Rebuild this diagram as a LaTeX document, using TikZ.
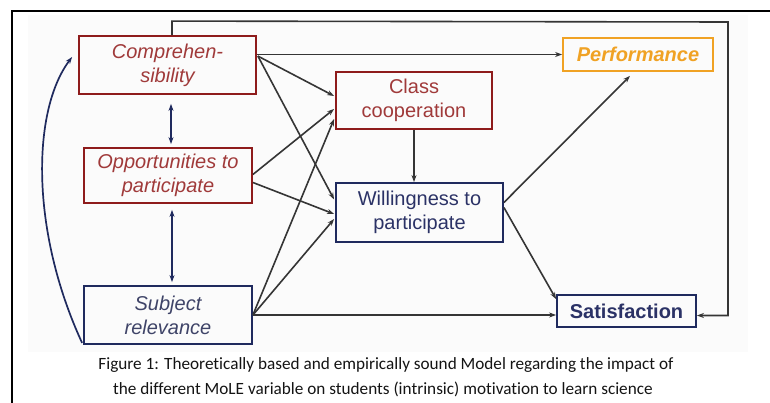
\documentclass[tikz,border=0pt]{standalone}
\usepackage{fontspec}
\setmainfont{Liberation Sans}
\newfontfamily\capfont[Ligatures=NoCommon]{Carlito}
\usetikzlibrary{arrows.meta,calc}
\definecolor{dred}{HTML}{8E1B1B}
\definecolor{tred}{HTML}{A03A3A}
\definecolor{dblue}{HTML}{1F2A5E}
\definecolor{tblue}{HTML}{2B3266}
\definecolor{sblue}{HTML}{3F4468}
\definecolor{orng}{HTML}{F0A224}
\definecolor{lgray}{HTML}{353535}
\begin{document}
\begin{tikzpicture}[x=1pt,y=-1pt,
  box/.style={draw, line width=1.8pt, inner sep=0pt, align=center, font=\fontsize{20}{24}\selectfont},
  redbox/.style={box, draw=dred, text=tred},
  bluebox/.style={box, draw=dblue, text=tblue},
  conn/.style={draw=lgray, line width=1.6pt, -{Stealth[length=7pt,width=5pt]}},
  bconn/.style={draw=dblue, line width=1.7pt, {Stealth[length=7pt,width=5pt]}-{Stealth[length=7pt,width=5pt]}},
  captext/.style={font=\capfont\fontsize{17.2}{20}\selectfont, text=black!92, anchor=base, inner sep=0pt},
]
\useasboundingbox (0,0) rectangle (770,403);
\fill[gray!3] (28,15) rectangle (748,352);
\draw[line width=2pt, black] (12,403) -- (12,11) -- (771,11);

% nodes
\node[redbox, minimum width=177pt, minimum height=58pt, font=\fontsize{20}{24}\selectfont\itshape] (C) at (167.5,65) {Comprehen-\\sibility};
\node[redbox, minimum width=168pt, minimum height=55pt, font=\fontsize{20}{24}\selectfont\itshape] (O) at (168,175.5) {Opportunities to\\participate};
\node[bluebox, text=sblue, minimum width=168pt, minimum height=58pt, font=\fontsize{20}{24}\selectfont\itshape] (S) at (168,315) {Subject\\relevance};
\node[redbox, minimum width=156pt, minimum height=57pt] (CC) at (414,100.5) {Class\\cooperation};
\node[bluebox, minimum width=167pt, minimum height=59pt] (W) at (419.5,212.5) {Willingness to\\participate};
\node[box, draw=orng, text=orng, minimum width=150pt, minimum height=33pt, font=\fontsize{20}{24}\selectfont\bfseries\itshape] (P) at (638,54.5) {Performance};
\node[bluebox, minimum width=139pt, minimum height=32pt, font=\fontsize{20}{24}\selectfont\bfseries] (Sat) at (626.5,311) {Satisfaction};

% feedback loop
\coordinate (t1) at ($(C.north)+(4.5,-14)$);
\coordinate (t2) at (728,22);
\coordinate (t3) at (728,315.5);
\draw[conn] (C.north -| t1) -- (t1) -- (t2) -- (t3) -- (t3 -| Sat.east);

% grey connectors
\draw[conn] (C.east |- P.west) -- (P.west);
\draw[conn] ($(C.north east)+(1,21)$) -- ($(CC.west)+(-1,-4.5)$);
\draw[conn] ($(C.north east)+(1,21)$) -- ($(W.west)+(-1,-13)$);
\draw[conn] ($(O.east)+(0,-1)$) -- ($(CC.west)+(-1,8.5)$);
\draw[conn] ($(O.east)+(0,7)$) -- ($(W.west)+(-1,1.5)$);
\draw[conn] (S.east) -- ($(CC.west)+(-1,18.5)$);
\draw[conn] (S.east) -- ($(W.west)+(-1,6.5)$);
\draw[conn] (S.east) -- (S.east -| Sat.west);
\draw[conn] (CC.south) -- (CC.south |- W.north);
\draw[conn] ($(W.east)+(0,-10)$) -- ($(P.south)+(-8,4)$);
\draw[conn] ($(W.east)+(0,-5)$) -- ($(Sat.north west)+(0,5)$);

% blue connectors
\draw[bconn] ($(C.south)+(3.5,9)$) -- ($(O.north)+(3,-3)$);
\draw[bconn] ($(O.south)+(4,6)$) -- ($(S.north)+(4,-3)$);
\draw[draw=dblue, line width=1.7pt, -{Stealth[length=7pt,width=5pt]}]
  ($(S.south west)+(-1,-2)$) .. controls (30,230) and (32,110) .. ($(C.west)+(-6,-8)$);

% caption
\node[captext] (cap1) at (386,369) {Figure 1: Theoretically based and empirically sound Model regarding the impact of};
\node[captext] (cap2) at (383,394) {the different MoLE variable on students (intrinsic) motivation to learn science};
\end{tikzpicture}
\end{document}
